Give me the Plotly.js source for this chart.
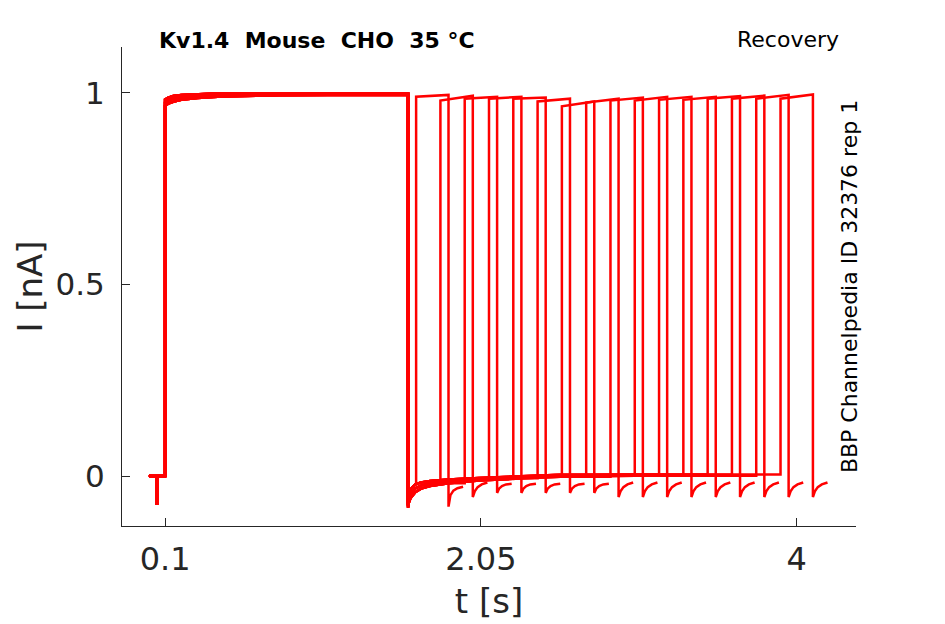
<!DOCTYPE html>
<html>
<head>
<meta charset="utf-8">
<script src="https://cdn.plot.ly/plotly-3.0.1.min.js"></script>
<style>
  html, body { margin: 0; padding: 0; background: #fff; }
  #chart { width: 945px; height: 624px; }
</style>
</head>
<body>
<div id="chart"></div>
<script>
// recovery protocol, 16 sweeps: conditioning pulse 0.1-1.6 s, then a 0.2 s test pulse
const testStart = [1.65, 1.80, 1.95, 2.10, 2.25, 2.40, 2.55, 2.70, 2.85, 3.00, 3.15, 3.30, 3.45, 3.60, 3.75, 3.90];
const testEnd = [1.85, 2.00, 2.15, 2.30, 2.45, 2.60, 2.75, 2.90, 3.05, 3.20, 3.35, 3.50, 3.65, 3.80, 3.95, 4.10];
const testLevelStart = [0.990, 0.980, 0.985, 0.985, 0.985, 0.978, 0.965, 0.975, 0.980, 0.980, 0.982, 0.982, 0.985, 0.985, 0.985, 0.985];
const testLevelEnd = [0.995, 0.993, 0.990, 0.990, 0.988, 0.985, 0.978, 0.985, 0.988, 0.990, 0.990, 0.990, 0.992, 0.993, 0.995, 0.996];

// holding + capacitive blip before the step
const preT = [0, 0.05, 0.05, 0.05, 0.1];
const preI = [0, 0, -0.076, 0, 0];

// conditioning pulse, three envelopes of the overlaid sweeps
const firstT = [0.1, 0.12, 0.15, 0.2, 0.3, 0.45, 0.6, 0.8, 1.1, 1.6];
const firstHigh = [0.983, 0.988, 0.992, 0.995, 0.997, 0.999, 0.999, 0.999, 0.999, 0.999];
const firstMid = [0.975, 0.980, 0.985, 0.989, 0.993, 0.995, 0.996, 0.997, 0.997, 0.997];
const firstLow = [0.967, 0.972, 0.977, 0.982, 0.987, 0.991, 0.993, 0.994, 0.995, 0.995];

// tail after the conditioning pulse
const tailT = [1.6, 1.605, 1.615, 1.625, 1.645, 1.68, 1.736, 1.85, 2.04, 2.3, 2.54, 3.0, 3.9];
const tailHigh = [-0.075, -0.050, -0.036, -0.030, -0.022, -0.017, -0.013, -0.009, -0.005, -0.001, 0.003, 0.004, 0.004];
const tailMid = [-0.079, -0.060, -0.047, -0.041, -0.032, -0.025, -0.019, -0.014, -0.008, -0.003, 0.001, 0.003, 0.003];
const tailLow = [-0.083, -0.070, -0.058, -0.052, -0.042, -0.033, -0.026, -0.019, -0.012, -0.006, -0.002, 0.001, 0.002];

// tail after the test pulse (offset from test end)
const hookT = [0, 0.012, 0.03, 0.055, 0.09];
const hookDeep = [-0.080, -0.050, -0.038, -0.032, -0.028];
const hookShallow = [-0.044, -0.033, -0.026, -0.022, -0.020];
const hookLate = [-0.055, -0.040, -0.029, -0.022, -0.017];

const sweepEnvelope = [0, 1, 2, 0, 1, 2, 0, 1, 2, 0, 1, 2, 0, 1, 2, 0];
const sweepHook = [0, 2, 1, 1, 1, 1, 1, 2, 2, 2, 2, 2, 2, 2, 2, 2];

const firstSets = [firstHigh, firstMid, firstLow];
const tailSets = [tailHigh, tailMid, tailLow];
const hookSets = [hookDeep, hookShallow, hookLate];

const traces = testStart.map((ts, s) => {
  const x = [...preT];
  const y = [...preI];
  const first = firstSets[sweepEnvelope[s]];
  firstT.forEach((t, j) => { x.push(t); y.push(first[j]); });

  const tail = tailSets[sweepEnvelope[s]];
  let last = tail[0];
  tailT.forEach((t, j) => {
    if (t < ts) { x.push(t); y.push(tail[j]); last = tail[j]; }
  });
  x.push(ts); y.push(last);

  x.push(ts, testEnd[s]);
  y.push(testLevelStart[s], testLevelEnd[s]);

  const hook = hookSets[sweepHook[s]];
  hookT.forEach((dt, j) => { x.push(testEnd[s] + dt); y.push(hook[j]); });

  return {
    x, y,
    type: 'scatter',
    mode: 'lines',
    line: { color: '#ff0000', width: 2.5 },
    hoverinfo: 'skip',
    showlegend: false
  };
});

const TEXT = '#262626';
const FONT = 'DejaVu Sans, sans-serif';

const layout = {
  width: 945,
  height: 624,
  paper_bgcolor: '#ffffff',
  plot_bgcolor: '#ffffff',
  margin: { l: 122, r: 89, t: 47, b: 98 },
  showlegend: false,
  font: { family: FONT, color: TEXT },
  xaxis: {
    range: [-0.166, 4.366],
    tickvals: [0.1, 2.05, 4],
    ticktext: ['0.1', '2.05', '4'],
    ticks: 'inside',
    ticklen: 8,
    tickcolor: TEXT,
    tickfont: { size: 32, color: TEXT, family: FONT },
    ticklabelstandoff: 5,
    showline: true,
    linecolor: TEXT,
    linewidth: 1,
    showgrid: false,
    zeroline: false,
    title: { text: 't [s]', font: { size: 34, color: TEXT, family: FONT }, standoff: 11 }
  },
  yaxis: {
    range: [-0.1305, 1.12],
    tickvals: [0, 0.5, 1],
    ticktext: ['0', '0.5', '1'],
    ticks: 'inside',
    ticklen: 8,
    tickcolor: TEXT,
    tickfont: { size: 31, color: TEXT, family: FONT },
    ticklabelstandoff: 10,
    showline: true,
    linecolor: TEXT,
    linewidth: 1,
    showgrid: false,
    zeroline: false,
    title: { text: 'I [nA]', font: { size: 34, color: TEXT, family: FONT }, standoff: 2 }
  },
  annotations: [
    {
      text: '<b>Kv1.4\u00a0\u00a0Mouse\u00a0\u00a0CHO\u00a0\u00a035 °C</b>',
      xref: 'paper', yref: 'paper', x: 0.048, y: 1.0146,
      xanchor: 'left', yanchor: 'middle', showarrow: false,
      font: { size: 22, color: '#000', family: FONT }
    },
    {
      text: 'Recovery',
      xref: 'paper', yref: 'paper', x: 0.907, y: 1.0167,
      xanchor: 'center', yanchor: 'middle', showarrow: false,
      font: { size: 22, color: '#000', family: FONT }
    },
    {
      text: 'BBP Channelpedia ID 32376 rep 1',
      xref: 'paper', yref: 'paper', x: 0.992, y: 0.499,
      xanchor: 'center', yanchor: 'middle', showarrow: false, textangle: -90,
      font: { size: 22, color: '#000', family: FONT }
    }
  ]
};

Plotly.newPlot('chart', traces, layout, { displayModeBar: false, staticPlot: true });
</script>
</body>
</html>
